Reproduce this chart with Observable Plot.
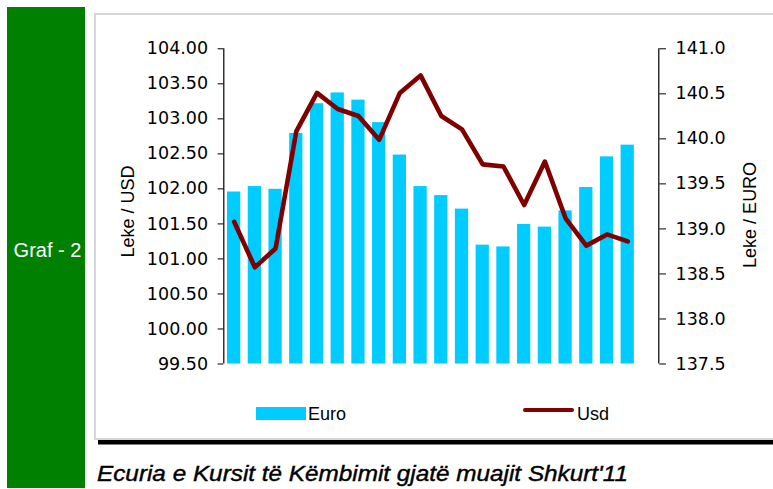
<!DOCTYPE html>
<html>
<head>
<meta charset="utf-8">
<script src="https://cdn.jsdelivr.net/npm/d3@7"></script>
<script src="https://cdn.jsdelivr.net/npm/@observablehq/plot@0.6"></script>
<style>
  html, body { margin: 0; padding: 0; background: #fff; }
  #root { position: relative; width: 773px; height: 489px; overflow: hidden; background: #fff; }
  #side { position: absolute; left: 7px; top: 7px; width: 78px; height: 481px; background: #008000; }
  #panel { position: absolute; left: 94px; top: 13px; width: 700px; height: 423px; border: 2px solid #d6d6d6; }
  #chart { position: absolute; left: 0; top: 0; }
  #overlay { position: absolute; left: 0; top: 0; }
</style>
</head>
<body>
<div id="root">
  <div id="side"></div>
  <div id="panel"></div>
  <div id="chart"></div>
  <svg id="overlay" width="773" height="489"></svg>
</div>
<script>
// Business days of February 2011
const days = ["01","02","03","04","07","08","09","10","11","14","15","16","17","18","21","22","23","24","25","28"];
// Leke / EURO (bars, right axis)
const euro = [139.41,139.47,139.44,140.06,140.39,140.51,140.43,140.18,139.82,139.47,139.37,139.22,138.82,138.80,139.05,139.02,139.20,139.46,139.80,139.93];
// Leke / USD (line, left axis)
const usd = [101.53,100.88,101.15,102.82,103.37,103.14,103.04,102.70,103.37,103.62,103.04,102.85,102.35,102.32,101.77,102.39,101.58,101.19,101.35,101.25];
// Axis ticks
const euroTicks = [137.5,138.0,138.5,139.0,139.5,140.0,140.5,141.0];
const usdTicks = [99.5,100.0,100.5,101.0,101.5,102.0,102.5,103.0,103.5,104.0];
const seriesNames = ["Euro", "Usd"];
const title = "Ecuria e Kursit të Këmbimit gjatë muajit Shkurt'11";
const sideLabel = "Graf - 2";

const euroDomain = [137.5, 141];
const usdDomain = [99.5, 104];
const conv = d3.scaleLinear().domain(usdDomain).range(euroDomain);

const rows = days.map((d, k) => ({day: d, i: k + 1, euro: euro[k], usd: usd[k]}));

const numFont = "DejaVu Sans";
const txtFont = "Liberation Sans, Arial, sans-serif";

const chart = Plot.plot({
  width: 773,
  height: 380,
  marginLeft: 223.3,
  marginRight: 114.7,
  marginTop: 48.3,
  marginBottom: 16.5,
  x: {type: "linear", domain: [0.5, days.length + 1.5], axis: null},
  y: {domain: euroDomain, axis: null},
  style: {fontFamily: numFont, fontSize: "17.5px", color: "#000", background: "transparent", overflow: "visible"},
  marks: [
    Plot.rectY(rows, {x1: d => d.i - 0.32, x2: d => d.i + 0.32, y1: euroDomain[0], y2: "euro", fill: "#00CCFF"}),
    Plot.ruleX([0.5, days.length + 1.5], {y1: euroDomain[0], y2: euroDomain[1], stroke: "#000", strokeWidth: 1.2}),
    Plot.axisY(euroTicks, {anchor: "right", tickSize: 6.7, tickPadding: 10, tickFormat: d3.format(".1f"), label: null, fontFamily: numFont, fontSize: 17.5, stroke: "#000"}),
    Plot.axisY(usdTicks.map(conv), {anchor: "left", tickSize: 5.7, tickPadding: 10, tickFormat: v => d3.format(".2f")(Math.round(conv.invert(v) * 100) / 100), label: null, fontFamily: numFont, fontSize: 17.5, stroke: "#000"}),
    Plot.line(rows, {x: "i", y: d => conv(d.usd), stroke: "#800000", strokeWidth: 4.6, strokeLinejoin: "round", strokeLinecap: "round"}),
    Plot.text(["Leke / USD"], {frameAnchor: "left", textAnchor: "middle", dx: -96, dy: 5, rotate: -90, fontFamily: txtFont, fontSize: 18, fill: "#000"}),
    Plot.text(["Leke / EURO"], {frameAnchor: "right", textAnchor: "middle", dx: 91, dy: 8.5, rotate: -90, fontFamily: txtFont, fontSize: 18, fill: "#000"})
  ]
});
document.getElementById("chart").appendChild(chart);

// Legend, side label and caption
const ov = d3.select("#overlay");
ov.append("text").attr("x", 47.5).attr("y", 257).attr("text-anchor", "middle")
  .attr("fill", "#fff").style("font-family", txtFont).style("font-size", "20px").text(sideLabel);

ov.append("rect").attr("x", 256).attr("y", 407).attr("width", 50).attr("height", 13).attr("fill", "#00CCFF");
ov.append("text").attr("x", 308).attr("y", 420).style("font-family", txtFont).style("font-size", "18px").attr("fill", "#000").text(seriesNames[0]);
ov.append("line").attr("x1", 525).attr("x2", 572).attr("y1", 410).attr("y2", 410)
  .attr("stroke", "#800000").attr("stroke-width", 4).attr("stroke-linecap", "round");
ov.append("text").attr("x", 577).attr("y", 420).style("font-family", txtFont).style("font-size", "18px").attr("fill", "#000").text(seriesNames[1]);

ov.append("rect").attr("x", 98).attr("y", 440).attr("width", 680).attr("height", 4.5).attr("fill", "#000");

ov.append("text").attr("x", 97).attr("y", 481)
  .attr("textLength", 531).attr("lengthAdjust", "spacingAndGlyphs")
  .style("font-family", txtFont).style("font-size", "22px").style("font-style", "italic")
  .attr("fill", "#000").attr("stroke", "#000").attr("stroke-width", 0.4)
  .text(title);
</script>
</body>
</html>
